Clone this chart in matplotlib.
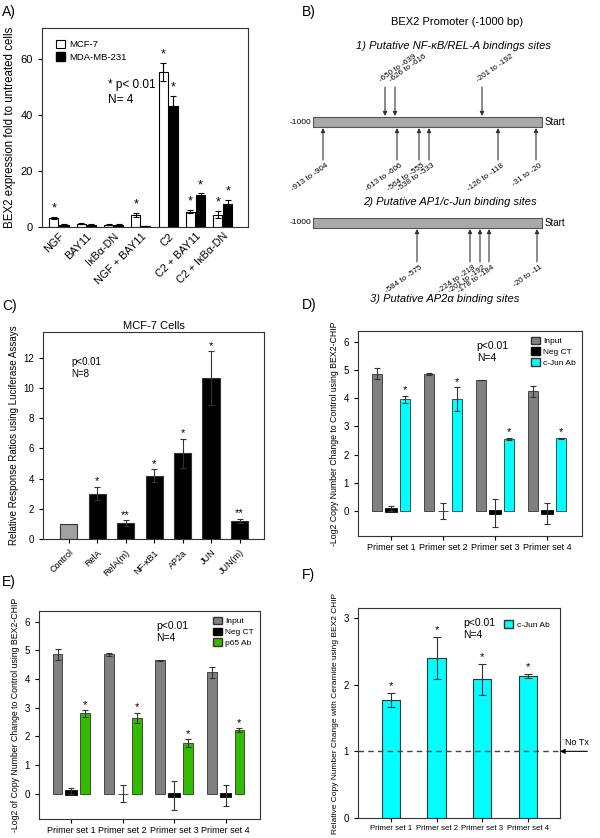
import matplotlib
matplotlib.use('Agg')
import matplotlib.pyplot as plt
from matplotlib.patches import Rectangle, Patch
import numpy as np

plt.rcParams['font.family'] = ['Liberation Sans', 'DejaVu Sans']
plt.rcParams['axes.linewidth'] = 0.8
plt.rcParams['axes.edgecolor'] = '#333333'

W, H = 600, 838
fig = plt.figure(figsize=(6, 8.38), dpi=100)


def rect(l, t, r, b):
    return [l / W, 1 - b / H, (r - l) / W, (b - t) / H]


# ---------------- Panel A data ----------------
a_groups = ['NGF', 'BAY11', 'IκBα-DN', 'NGF + BAY11', 'C2', 'C2 + BAY11', 'C2 + IκBα-DN']
a_mcf7 = [3.3, 1.2, 0.8, 4.3, 55.4, 5.5, 4.4]
a_mcf7_err = [0.3, 0.1, 0.1, 0.7, 3.2, 0.6, 1.3]
a_mda = [0.8, 0.8, 0.8, 0.4, 43.0, 11.4, 8.1]
a_mda_err = [0.1, 0.1, 0.1, 0.1, 3.7, 0.6, 1.5]
a_mcf7_sig = [True, False, False, True, True, True, True]
a_mda_sig = [False, False, False, False, True, True, True]

# ---------------- Panel B data ----------------
b_title = 'BEX2 Promoter (-1000 bp)'
b_subtitles = ['1) Putative NF-κB/REL-A bindings sites',
               '2) Putative AP1/c-Jun binding sites',
               '3) Putative AP2α binding sites']
b1_above_labels = ['-650 to -639', '-626 to -616', '-201 to -192']
b1_above_pos = [385, 395, 482]
b1_below_labels = ['-913 to -904', '-613 to -606', '-564 to -555', '-538 to -533',
                   '-126 to -118', '-31 to -20']
b1_below_pos = [323, 397, 419, 429, 498, 536]
b2_below_labels = ['-584 to -575', '-224 to -218', '-201 to -192', '-178 to -184', '-20 to -11']
b2_below_pos = [417, 470, 480, 489, 537]

# ---------------- Panel C data ----------------
c_labels = ['Control', 'RelA', 'RelA(m)', 'NF-κB1', 'AP2a', 'JUN', 'JUN(m)']
c_vals = [1.0, 3.0, 1.06, 4.2, 5.66, 10.65, 1.19]
c_err = [0.0, 0.45, 0.17, 0.4, 0.97, 1.77, 0.15]
c_sig = ['', '*', '**', '*', '*', '*', '**']

# ---------------- Panels D/E data ----------------
primer_sets = ['Primer set 1', 'Primer set 2', 'Primer set 3', 'Primer set 4']
input_vals = [4.87, 4.86, 4.65, 4.24]
input_err = [0.19, 0.04, 0.01, 0.2]
negct_vals = [0.08, 0.0, -0.07, -0.08]
negct_err = [0.1, 0.29, 0.5, 0.37]
cjun_vals = [3.96, 3.97, 2.55, 2.57]
cjun_err = [0.13, 0.41, 0.04, 0.03]
p65_vals = [2.8, 2.65, 1.76, 2.21]
p65_err = [0.11, 0.17, 0.14, 0.07]

# ---------------- Panel F data ----------------
f_vals = [1.77, 2.4, 2.08, 2.13]
f_err = [0.11, 0.31, 0.23, 0.03]

GREY = '#808080'
CYAN = '#00FFFF'
GREEN = '#33BB00'
EDGE = '#333333'

# ======================= Panel A =======================
axA = fig.add_axes(rect(42, 28, 248, 227))
x = np.arange(len(a_groups))
bw = 0.33
axA.bar(x - bw / 2 - 0.02, a_mcf7, bw, yerr=a_mcf7_err, color='white', edgecolor='black',
        linewidth=0.8, error_kw=dict(elinewidth=0.8, capsize=2.5, capthick=0.8))
axA.bar(x + bw / 2 + 0.02, a_mda, bw, yerr=a_mda_err, color='black', edgecolor='black',
        linewidth=0.8, error_kw=dict(elinewidth=0.8, capsize=2.5, capthick=0.8))
for i in range(len(a_groups)):
    if a_mcf7_sig[i]:
        axA.text(x[i] - bw / 2 - 0.02, a_mcf7[i] + a_mcf7_err[i] + 0.8, '*', ha='center',
                 va='bottom', fontsize=9)
    if a_mda_sig[i]:
        axA.text(x[i] + bw / 2 + 0.02, a_mda[i] + a_mda_err[i] + 0.8, '*', ha='center',
                 va='bottom', fontsize=9)
axA.set_xlim(-0.62, 6.92)
axA.set_ylim(0, 71)
axA.set_yticks([0, 20, 40, 60])
axA.tick_params(axis='y', labelsize=8, length=3, width=0.8)
axA.set_xticks(x)
axA.set_xticklabels(a_groups, rotation=45, ha='right', rotation_mode='anchor', fontsize=7.8)
axA.tick_params(axis='x', length=0, pad=3)
axA.set_ylabel('BEX2 expression fold to untreated cells', fontsize=8.3, labelpad=3)
axA.legend(handles=[Patch(facecolor='white', edgecolor='black', lw=0.8, label='MCF-7'),
                    Patch(facecolor='black', edgecolor='black', label='MDA-MB-231')],
           loc='upper left', bbox_to_anchor=(0.04, 0.97), frameon=False, fontsize=6.8,
           handlelength=1.0, handleheight=1.0, labelspacing=0.35, handletextpad=0.4,
           borderaxespad=0.2)
axA.text(0.32, 0.745, '* p< 0.01\nN= 4', transform=axA.transAxes, fontsize=8.5,
         ha='left', va='top', linespacing=1.4)
fig.text(2 / W, 1 - 12 / H, 'A)', fontsize=10, va='center')

# ======================= Panel B =======================
axB = fig.add_axes(rect(300, 0, 600, 305))
axB.set_xlim(300, 600)
axB.set_ylim(305, 0)
axB.axis('off')
fig.text(302 / W, 1 - 12 / H, 'B)', fontsize=10, va='center')
axB.text(457, 22, b_title, ha='center', va='center', fontsize=8)
axB.text(453, 46, b_subtitles[0], ha='center', va='center', fontsize=8, style='italic')
axB.text(450, 202, b_subtitles[1], ha='center', va='center', fontsize=8, style='italic')
axB.text(445, 299, b_subtitles[2], ha='center', va='center', fontsize=8, style='italic')

bars_y = [(117, 127), (218, 228)]
for (t, b) in bars_y:
    axB.add_patch(Rectangle((313, t), 229, b - t, facecolor='#a9a9a9', edgecolor='#555555',
                            lw=0.8))
    axB.text(311, (t + b) / 2, '-1000', ha='right', va='center', fontsize=6)
    axB.text(545, (t + b) / 2, 'Start', ha='left', va='center', fontsize=7)

arrow_kw = dict(arrowstyle='-|>', color='#333333', lw=0.8, mutation_scale=6,
                shrinkA=0, shrinkB=0)
for lab, px in zip(b1_above_labels, b1_above_pos):
    axB.annotate('', xy=(px, 116), xytext=(px, 87), arrowprops=arrow_kw)
    axB.text(px - 3, 84, lab, rotation=35, rotation_mode='anchor', ha='left', va='bottom',
             fontsize=5.8)
for lab, px in zip(b1_below_labels, b1_below_pos):
    axB.annotate('', xy=(px, 128), xytext=(px, 160), arrowprops=arrow_kw)
    axB.text(px + 3, 162, lab, rotation=35, rotation_mode='anchor', ha='right', va='top',
             fontsize=5.8)
for lab, px in zip(b2_below_labels, b2_below_pos):
    axB.annotate('', xy=(px, 229), xytext=(px, 262), arrowprops=arrow_kw)
    axB.text(px + 3, 264, lab, rotation=35, rotation_mode='anchor', ha='right', va='top',
             fontsize=5.8)

# ======================= Panel C =======================
axC = fig.add_axes(rect(43, 332, 264, 539))
xc = np.arange(len(c_labels))
c_colors = ['#a0a0a0'] + ['black'] * (len(c_labels) - 1)
axC.bar(xc, c_vals, 0.6, color=c_colors, edgecolor='#333333', linewidth=0.8)
axC.errorbar(xc[1:], c_vals[1:], yerr=c_err[1:], fmt='none', ecolor='#333333',
             elinewidth=0.8, capsize=2.5, capthick=0.8)
for i in range(len(c_labels)):
    if c_sig[i]:
        axC.text(xc[i], c_vals[i] + c_err[i] + 0.05, c_sig[i], ha='center', va='bottom',
                 fontsize=8)
axC.set_xlim(-0.9, 6.86)
axC.set_ylim(0, 13.7)
axC.set_yticks([0, 2, 4, 6, 8, 10, 12])
axC.set_xticks(xc)
axC.set_xticklabels(c_labels, rotation=45, ha='right', rotation_mode='anchor', fontsize=6.5)
axC.tick_params(axis='both', length=3, width=0.8, labelsize=7)
axC.tick_params(axis='x', labelsize=6.5)
axC.set_ylabel('Relative Response Ratios using Luciferase Assays', fontsize=7, labelpad=3)
axC.set_title('MCF-7 Cells', fontsize=8, pad=2)
axC.text(0.13, 0.88, 'p<0.01\nN=8', transform=axC.transAxes, fontsize=7, va='top',
         linespacing=1.3)
fig.text(2 / W, 1 - 306 / H, 'C)', fontsize=10, va='center')


# ======================= Panels D / E =======================
def chip_panel(ax, third_vals, third_err, third_color, third_label, ylabel):
    xp = np.arange(len(primer_sets))
    off = 0.27
    w = 0.19
    ekw = dict(elinewidth=0.8, capsize=2, capthick=0.8, ecolor='#333333')
    ax.bar(xp - off, input_vals, w, yerr=input_err, color=GREY, edgecolor=EDGE,
           linewidth=0.6, error_kw=ekw)
    neg_lw = [2.0 if v != 0 else 0.5 for v in negct_vals]
    ax.bar(xp, negct_vals, w, color='black', edgecolor='black', linewidth=neg_lw)
    ax.errorbar(xp, negct_vals, yerr=negct_err, fmt='none', **ekw)
    ax.bar(xp + off, third_vals, w, yerr=third_err, color=third_color, edgecolor=EDGE,
           linewidth=0.6, error_kw=ekw)
    for i in range(len(xp)):
        ax.text(xp[i] + off, third_vals[i] + third_err[i] + 0.02, '*', ha='center',
                va='bottom', fontsize=8)
    ax.set_xlim(-0.63, 3.67)
    ax.set_ylim(-0.89, 6.38)
    ax.set_yticks([0, 1, 2, 3, 4, 5, 6])
    ax.set_xticks(xp)
    ax.set_xticklabels(primer_sets, fontsize=6.5)
    ax.tick_params(axis='both', length=3, width=0.8, labelsize=7)
    ax.tick_params(axis='x', labelsize=6.5, pad=2)
    ax.set_ylabel(ylabel, fontsize=6.3, labelpad=3)
    ax.legend(handles=[Patch(facecolor=GREY, edgecolor=EDGE, label='Input'),
                       Patch(facecolor='black', edgecolor='black', label='Neg CT'),
                       Patch(facecolor=third_color, edgecolor=EDGE, label=third_label)],
              loc='upper right', frameon=False, fontsize=6, handlelength=1.1,
              handleheight=1.0, labelspacing=0.25, handletextpad=0.4, borderaxespad=0.3)
    ax.text(0.53, 0.95, 'p<0.01\nN=4', transform=ax.transAxes, fontsize=7.5, va='top',
            linespacing=1.2)


axD = fig.add_axes(rect(358, 331, 582, 536))
chip_panel(axD, cjun_vals, cjun_err, CYAN, 'c-Jun Ab',
           '-Log2 Copy Number Change to Control using BEX2-CHIP')
fig.text(302 / W, 1 - 305 / H, 'D)', fontsize=10, va='center')

axE = fig.add_axes(rect(39, 611, 260, 819))
chip_panel(axE, p65_vals, p65_err, GREEN, 'p65 Ab',
           '-Log2 of Copy Number Change to Control using BEX2-CHIP')
fig.text(2 / W, 1 - 582 / H, 'E)', fontsize=10, va='center')

# ======================= Panel F =======================
axF = fig.add_axes(rect(358, 608, 560, 818))
xf = np.arange(len(primer_sets))
axF.bar(xf, f_vals, 0.4, yerr=f_err, color=CYAN, edgecolor=EDGE, linewidth=0.8,
        error_kw=dict(elinewidth=0.8, capsize=3, capthick=0.8, ecolor='#333333'))
for i in range(len(xf)):
    axF.text(xf[i], f_vals[i] + f_err[i] + 0.03, '*', ha='center', va='bottom', fontsize=8)
axF.axhline(1.0, color='#444444', lw=1.0, ls=(0, (4, 3)))
axF.set_xlim(-0.72, 3.7)
axF.set_ylim(0, 3.15)
axF.set_yticks([0, 1, 2, 3])
axF.set_xticks(xf)
axF.set_xticklabels(primer_sets, fontsize=5.6)
axF.tick_params(axis='both', length=3, width=0.8, labelsize=7)
axF.tick_params(axis='x', labelsize=5.6, pad=2)
axF.set_ylabel('Relative Copy Number Change with Ceramide using BEX2 CHIP', fontsize=6,
               labelpad=3)
axF.legend(handles=[Patch(facecolor=CYAN, edgecolor=EDGE, label='c-Jun Ab')],
           loc='upper right', bbox_to_anchor=(0.98, 0.97), frameon=False, fontsize=6,
           handlelength=1.1, handleheight=1.0, handletextpad=0.5, borderaxespad=0.3)
axF.text(0.52, 0.95, 'p<0.01\nN=4', transform=axF.transAxes, fontsize=7.5, va='top',
         linespacing=1.2)
axF.annotate('', xy=(1.0, 1.0), xycoords=('axes fraction', 'data'),
             xytext=(1.135, 1.0), textcoords=('axes fraction', 'data'),
             arrowprops=dict(arrowstyle='-|>', color='black', lw=0.8, mutation_scale=7,
                             shrinkA=0, shrinkB=0), annotation_clip=False)
axF.text(1.085, 1.06, 'No Tx', transform=axF.get_yaxis_transform(), fontsize=6.5,
         ha='center', va='bottom', clip_on=False)
fig.text(302 / W, 1 - 575 / H, 'F)', fontsize=10, va='center')

fig.savefig('out.png', dpi=100)
